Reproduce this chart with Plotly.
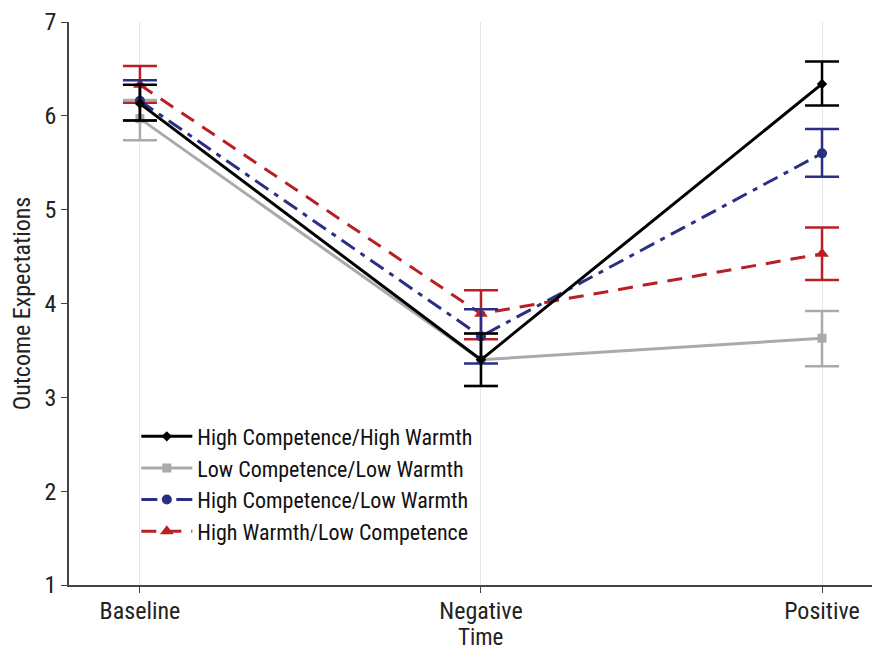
import plotly.graph_objects as go

categories = ["Baseline", "Negative", "Positive"]

series_names = ["High Competence/High Warmth", "Low Competence/Low Warmth",
                "High Competence/Low Warmth", "High Warmth/Low Competence"]

hchw_mean = [6.13, 3.40, 6.34]
hchw_upper = [6.33, 3.68, 6.58]
hchw_lower = [5.95, 3.12, 6.11]

lclw_mean = [5.97, 3.40, 3.63]
lclw_upper = [6.17, 3.68, 3.92]
lclw_lower = [5.74, 3.12, 3.33]

hclw_mean = [6.16, 3.65, 5.60]
hclw_upper = [6.38, 3.94, 5.86]
hclw_lower = [5.95, 3.36, 5.35]

hwlc_mean = [6.33, 3.89, 4.53]
hwlc_upper = [6.53, 4.14, 4.81]
hwlc_lower = [6.14, 3.62, 4.25]

x_title = "Time"
y_title = "Outcome Expectations"

FONT = "Roboto Condensed, Liberation Sans Narrow, Arial Narrow, sans-serif"

def mk(name, mean, up, lo, color, dash, symbol, msize, rank):
    return go.Scatter(
        x=categories, y=mean, name=name, mode="lines+markers",
        line=dict(color=color, width=3, dash=dash),
        marker=dict(symbol=symbol, size=msize, color=color),
        error_y=dict(type="data", symmetric=False,
                     array=[u - m for u, m in zip(up, mean)],
                     arrayminus=[m - l for m, l in zip(mean, lo)],
                     color=color, thickness=2.5, width=17),
        legendrank=rank,
    )

fig = go.Figure()
fig.add_trace(mk(series_names[1], lclw_mean, lclw_upper, lclw_lower, "#aaaaaa", "solid", "square", 9, 2))
fig.add_trace(mk(series_names[3], hwlc_mean, hwlc_upper, hwlc_lower, "#b82025", "15px,10px", "triangle-up", 12, 4))
fig.add_trace(mk(series_names[2], hclw_mean, hclw_upper, hclw_lower, "#2b2f83", "16px,7px,5px,7px", "circle", 10, 3))
fig.add_trace(mk(series_names[0], hchw_mean, hchw_upper, hchw_lower, "#000000", "solid", "diamond", 8, 1))

fig.update_layout(
    width=872, height=643,
    margin=dict(l=61, r=0, t=14, b=66),
    plot_bgcolor="white", paper_bgcolor="white",
    font=dict(family=FONT, size=24, color="#222222"),
    legend=dict(x=0.083, y=0.301, xanchor="left", yanchor="top",
                bgcolor="rgba(255,255,255,0)", font=dict(size=22, color="#111111"),
                tracegroupgap=0, itemwidth=51),
    showlegend=True,
    annotations=[dict(text=x_title, xref="x", x=categories[1], yref="paper", y=-0.0924,
                      yanchor="middle", xanchor="center", showarrow=False,
                      font=dict(size=23, color="#222222"))],
)
fig.update_xaxes(
    range=[-0.208, 2.17], showgrid=True, gridcolor="#e6e6e6", gridwidth=1,
    showline=True, linecolor="#444444", linewidth=1.5,
    ticks="outside", ticklen=6, tickcolor="#444444", ticklabelstandoff=-3,
    tickfont=dict(size=24), zeroline=False, automargin=False,
)
fig.update_yaxes(
    range=[1, 7], dtick=1, showgrid=False,
    showline=True, linecolor="#444444", linewidth=1.5,
    ticks="outside", ticklen=6, tickcolor="#444444",
    title=dict(text=y_title, font=dict(size=24), standoff=8),
    tickfont=dict(size=24), zeroline=False, automargin=False,
)

fig.write_html("out.html")
